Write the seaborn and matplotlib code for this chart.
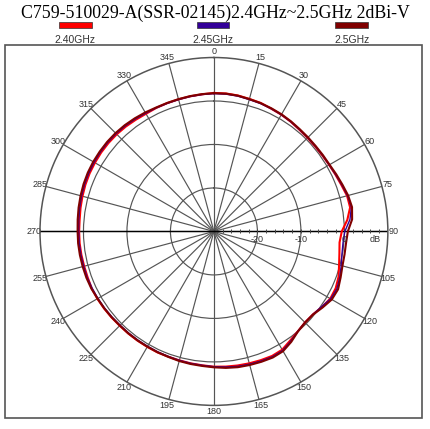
import numpy as np
import pandas as pd
import seaborn as sns
import matplotlib.pyplot as plt
import matplotlib.transforms as mtransforms
from matplotlib.patches import Rectangle

angles = list(range(0, 365, 5))
gain_240 = [1.85, 1.85, 1.75, 1.55, 1.45, 1.15, 1.0, 0.8, 0.55, 0.45, 0.4, 0.45, 0.6, 0.85, 1.2, 1.7,
            1.8, 0.8, -0.6, -1.0, -0.7, -0.2, 0.5, 0.9, 0.9, 0.3, -0.3, -0.4, 0.0, 0.6, 1.4, 1.6,
            1.5, 1.4, 1.3, 1.2, 1.1, 0.9, 0.8, 0.7, 0.65, 0.7, 0.65, 0.65, 0.65, 0.65, 0.75, 0.85,
            0.95, 1.0, 0.9, 0.9, 0.95, 1.0, 1.0, 1.0, 1.15, 1.3, 1.45, 1.55, 1.6, 1.65, 1.65, 1.6,
            1.5, 1.35, 1.25, 1.35, 1.4, 1.45, 1.55, 1.65, 1.85]
gain_245 = [1.7, 1.7, 1.6, 1.4, 1.3, 1.15, 1.0, 0.8, 0.6, 0.5, 0.45, 0.5, 0.6, 0.9, 1.3, 1.8,
            2.1, 1.4, 0.1, -0.2, -0.1, 0.3, 0.8, 1.2, 1.0, 0.2, -0.3, -0.4, 0.0, 0.8, 1.6, 1.8,
            1.7, 1.6, 1.5, 1.3, 1.1, 0.9, 0.8, 0.7, 0.6, 0.55, 0.5, 0.5, 0.5, 0.5, 0.6, 0.7,
            0.8, 0.9, 1.0, 1.0, 1.05, 1.1, 1.1, 1.2, 1.35, 1.5, 1.65, 1.75, 1.8, 1.85, 1.85, 1.8,
            1.7, 1.55, 1.4, 1.35, 1.35, 1.4, 1.5, 1.6, 1.7]
gain_250 = [1.8, 1.8, 1.7, 1.5, 1.4, 1.25, 1.1, 0.9, 0.7, 0.6, 0.55, 0.6, 0.7, 1.05, 1.45, 1.95,
            2.25, 1.9, 0.8, 0.5, 0.5, 0.6, 1.0, 1.5, 1.3, 0.5, -0.25, -0.35, 0.05, 1.0, 1.8, 2.0,
            1.9, 1.8, 1.7, 1.5, 1.25, 1.05, 0.95, 0.85, 0.7, 0.65, 0.6, 0.6, 0.6, 0.6, 0.7, 0.8,
            0.9, 1.1, 1.2, 1.25, 1.3, 1.35, 1.35, 1.45, 1.6, 1.75, 1.9, 2.0, 2.05, 2.05, 2.05, 2.0,
            1.9, 1.75, 1.6, 1.45, 1.45, 1.5, 1.6, 1.7, 1.8]

freq_labels = ["2.40GHz", "2.45GHz", "2.5GHz"]
colors = ["#ff0000", "#330099", "#800000"]
widths = [1.5, 1.0, 1.5]
ring_values = [-20, -10, 0]
ring_labels = ["-20", "-10", "0"]
title = "C759-510029-A(SSR-02145)2.4GHz~2.5GHz 2dBi-V"

df = pd.concat([
    pd.DataFrame({"theta": np.deg2rad(angles), "gain": g, "freq": f})
    for g, f in zip([gain_240, gain_245, gain_250], freq_labels)
])

fig = plt.figure(figsize=(4.30, 4.29), dpi=100)
ax = fig.add_axes([0.093, 0.055, 0.809, 0.811], projection="polar")
ax.set_theta_zero_location("N")
ax.set_theta_direction(-1)
ax.set_ylim(-30, 10)

# grid
ax.set_thetagrids(range(0, 360, 15), [str(a) for a in range(0, 360, 15)],
                  fontsize=6.5, color="#333333", family="Liberation Sans")
ax.set_rgrids(ring_values, labels=["", "", ""])
ax.grid(True, color="#555555", linewidth=0.85)
ax.spines["polar"].set_color("#555555")
ax.spines["polar"].set_linewidth(1.1)
ax.set_xticks(np.deg2rad(np.arange(0, 360, 5)), minor=True)
ax.tick_params(axis="x", which="minor", direction="in", length=3, color="#555555", width=0.8)
ax.tick_params(axis="x", which="major", length=0, pad=-2.5)
ax.tick_params(axis="y", which="both", length=0)
ax.axvline(np.pi / 2, color="black", linewidth=1)
ax.axvline(3 * np.pi / 2, color="black", linewidth=1)

# small ticks along the 90 deg radius
rticks = np.arange(-28, 10, 2)
ax.plot([np.pi / 2] * len(rticks), rticks, ls="none", marker="|", ms=3, mew=0.7, color="#444444")

below = mtransforms.offset_copy(ax.transData, fig=fig, x=0, y=-4, units="dots")
for v, lab in zip(ring_values + [7], ring_labels + ["dB"]):
    ax.text(np.pi / 2, v, lab, transform=below, ha="center", va="top",
            fontsize=6.5, color="#333333", family="Liberation Sans")

sns.lineplot(data=df, x="theta", y="gain", hue="freq", palette=dict(zip(freq_labels, colors)),
             sort=False, estimator=None, legend=False, ax=ax)
for line, w in zip(ax.lines[-3:], widths):
    line.set_linewidth(w)
ax.set_xlabel("")
ax.set_ylabel("")

# frame, title and legend
fig.patches.append(Rectangle((0.012, 0.026), 0.969, 0.869, transform=fig.transFigure,
                             fill=False, edgecolor="#555555", linewidth=1.2))
fig.text(0.5, 0.970, title, ha="center", va="center", fontsize=12.8, family="Liberation Serif")
for xc, lab, c in zip([0.175, 0.495, 0.818], freq_labels, colors):
    fig.patches.append(Rectangle((xc - 0.038, 0.934), 0.076, 0.014, transform=fig.transFigure,
                                 facecolor=c, edgecolor="#333333", linewidth=0.5))
    fig.text(xc, 0.906, lab, ha="center", va="center", fontsize=7.5, color="#333333",
             family="Liberation Sans")

fig.savefig("out.png", dpi=100)
